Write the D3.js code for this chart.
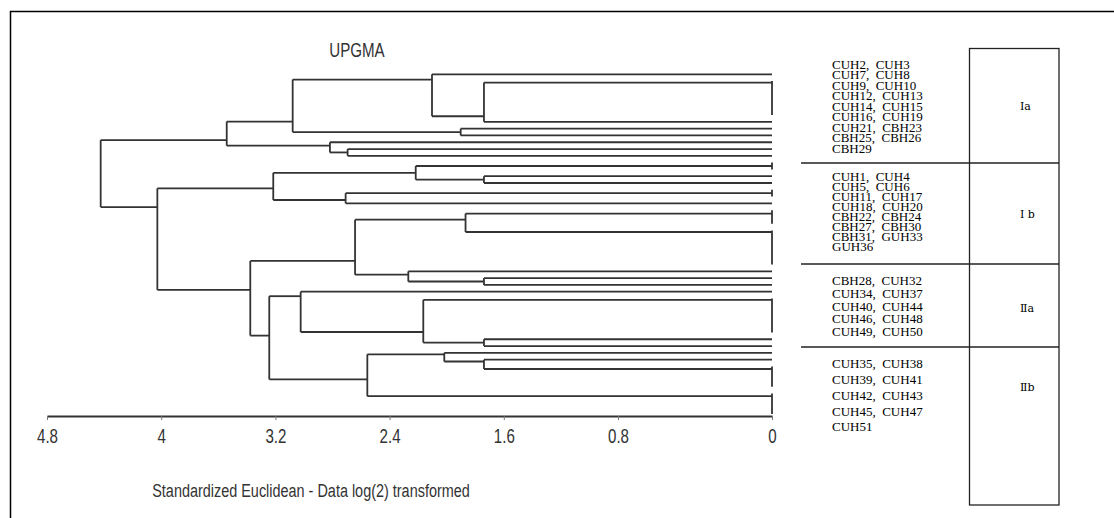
<!DOCTYPE html>
<html><head><meta charset="utf-8">
<script src="https://cdn.jsdelivr.net/npm/d3@7"></script>
<style>
body{margin:0;background:#fff;}
svg{display:block;}
</style></head><body>
<svg id="chart" width="1114" height="518"></svg>
<script>
// ---------------- data ----------------
const methodTitle = "UPGMA";
const axisTitle = "Standardized Euclidean - Data log(2) transformed";
const tickValues = [4.8, 4, 3.2, 2.4, 1.6, 0.8, 0];

// internal clusters of the UPGMA tree (fusion distance)
const nodeIds     = ["ROOT","A7","E2","A4","A6","A2","A3","A5","A1","Z1",
                     "B4","E1","B2","B3","Z2","B1","Z3",
                     "C4","D7","C1","C3","Z4","Z5","C2",
                     "D3","D6","D2","Z6","D1","D5","Z8","D4","Z7"];
const nodeParents = [null,"ROOT","ROOT","A7","A7","A4","A4","A6","A2","A1",
                     "E2","E2","B4","B4","B2","B2","B3",
                     "E1","E1","C4","C4","C1","C1","C3",
                     "D7","D7","D3","D2","D2","D6","D6","D5","D4"];
const nodeHeights = [4.424,3.541,4.027,3.079,2.818,2.103,1.902,2.694,1.739,0,
                     3.215,3.376,2.217,2.708,0,1.739,0,
                     2.642,3.243,1.868,2.269,0,0,1.739,
                     3.023,2.556,2.164,0,1.739,2.017,0,1.739,0];
// the 51 samples, top to bottom, with the cluster each one joins
const leafParents = ["A2","Z1","Z1","Z1","Z1","Z1","Z1","A1","A3","A3","A6","A5","A5",
                     "Z2","Z2","B1","B1","Z3","Z3","B3",
                     "Z4","Z4","Z4","Z5","Z5","Z5","Z5","Z5","Z5","C3","C2","C2",
                     "D3","Z6","Z6","Z6","Z6","Z6","Z6","D1","D1","D5","D4",
                     "Z7","Z7","Z7","Z7","Z8","Z8","Z8","Z8"];

const groupNames = ["\u2160a", "\u2160 b", "\u2161a", "\u2161b"];
const groupIa  = ["CUH2,  CUH3","CUH7,  CUH8","CUH9,  CUH10","CUH12,  CUH13","CUH14,  CUH15",
                  "CUH16,  CUH19","CUH21,  CBH23","CBH25,  CBH26","CBH29"];
const groupIb  = ["CUH1,  CUH4","CUH5,  CUH6","CUH11,  CUH17","CUH18,  CUH20","CBH22,  CBH24",
                  "CBH27,  CBH30","CBH31,  GUH33","GUH36"];
const groupIIa = ["CBH28,  CUH32","CUH34,  CUH37","CUH40,  CUH44","CUH46,  CUH48","CUH49,  CUH50"];
const groupIIb = ["CUH35,  CUH38","CUH39,  CUH41","CUH42,  CUH43","CUH45,  CUH47","CUH51"];

// ---------------- layout ----------------
const svg = d3.select("#chart");
const sans = "'Liberation Sans Narrow','Liberation Sans',Arial,sans-serif";
const serif = "'Liberation Serif','Times New Roman',serif";
// the printed axis is stretched in its last interval (0.8 -> 0)
const x = d3.scaleLinear().domain([4.8, 0.8, 0]).range([47, 618, 772]);
const y = d3.scaleLinear().domain([0, leafParents.length - 1]).range([74.3, 414]);

// outer frame (left + top)
svg.append("path").attr("d","M10.5,518V11.5H1114").attr("fill","none")
   .attr("stroke","#000").attr("stroke-width",1.5);

// tree
const table = nodeIds.map((id,i)=>({id, parent:nodeParents[i], height:nodeHeights[i]}))
  .concat(leafParents.map((p,i)=>({id:"s"+i, parent:p, height:0, order:i})));
const root = d3.stratify().id(d=>d.id).parentId(d=>d.parent)(table);
root.eachAfter(n=>{
  n.minOrder = n.children ? d3.min(n.children,c=>c.minOrder) : n.data.order;
  n.size = n.children ? d3.sum(n.children,c=>c.size) : 1;
});
root.sort((a,b)=>a.minOrder-b.minOrder);
root.eachAfter(n=>{
  n.px = x(n.data.height);
  if(!n.children){ n.py = y(n.data.order); return; }
  const k = n.children.length;
  let acc = {py:n.children[k-1].py, size:n.children[k-1].size};
  for(let i=k-2;i>=0;i--){
    const c = n.children[i];
    acc = {py:(acc.size*c.py + c.size*acc.py)/(acc.size+c.size), size:acc.size+c.size};
  }
  n.py = acc.py;
});
const gTree = svg.append("g").attr("fill","none").attr("stroke","#333").attr("stroke-width",1.8);
gTree.selectAll("path.h").data(root.descendants().filter(n=>n.parent)).join("path")
  .attr("class","h").attr("d",n=>`M${n.parent.px},${n.py}H${n.px}`);
gTree.selectAll("path.v").data(root.descendants().filter(n=>n.children)).join("path")
  .attr("class","v").attr("d",n=>`M${n.px},${d3.min(n.children,c=>c.py)}V${d3.max(n.children,c=>c.py)}`);

// axis
const axisY = 416;
const ax = svg.append("g").attr("transform",`translate(0,${axisY})`)
  .call(d3.axisBottom(x).tickValues(tickValues).tickFormat(d=>String(d))
        .tickSize(4).tickSizeOuter(0).tickPadding(8));
ax.attr("font-family",sans).attr("font-size",21);
ax.select(".domain").attr("stroke","#333").attr("stroke-width",2);
ax.selectAll(".tick line").attr("stroke","#777");
ax.selectAll(".tick text").attr("fill","#333").attr("transform","scale(0.72,1)");

function squeezed(cx, cy, size, sx, txt){
  svg.append("g").attr("transform",`translate(${cx},${cy})`)
    .append("text").attr("transform",`scale(${sx},1)`).attr("text-anchor","middle")
    .attr("font-family",sans).attr("font-size",size).attr("fill","#333").text(txt);
}
squeezed(357, 57, 21, 0.72, methodTitle);
squeezed(311, 497, 19, 0.76, axisTitle);

// side table
const box = {x0:969.5, x1:1059, y0:48.5, y1:505};
const dividers = [163, 264, 347];
svg.append("rect").attr("x",box.x0).attr("y",box.y0).attr("width",box.x1-box.x0)
   .attr("height",box.y1-box.y0).attr("fill","none").attr("stroke","#222").attr("stroke-width",1.3);
svg.selectAll("line.div").data(dividers).join("line").attr("class","div")
   .attr("x1",801).attr("x2",box.x1).attr("y1",d=>d).attr("y2",d=>d)
   .attr("stroke","#222").attr("stroke-width",1.3);

const groups = [
  {lines:groupIa,  first:64,    step:10.55, label:groupNames[0], ly:106},
  {lines:groupIb,  first:176.7, step:10.0,  label:groupNames[1], ly:214},
  {lines:groupIIa, first:280.7, step:12.75, label:groupNames[2], ly:307.7},
  {lines:groupIIb, first:363.3, step:15.9,  label:groupNames[3], ly:387}
];
groups.forEach(g=>{
  svg.append("g").attr("font-family",serif).attr("font-size",13).attr("fill","#000")
    .selectAll("text").data(g.lines).join("text")
    .attr("x",832).attr("y",(d,i)=>g.first + i*g.step + 4.5)
    .style("white-space","pre").text(d=>d);
  svg.append("text").attr("x",1020).attr("y",g.ly+4).attr("font-family","'DejaVu Serif',serif")
    .attr("font-size",11).attr("fill","#000").text(g.label);
});
</script>
</body></html>
